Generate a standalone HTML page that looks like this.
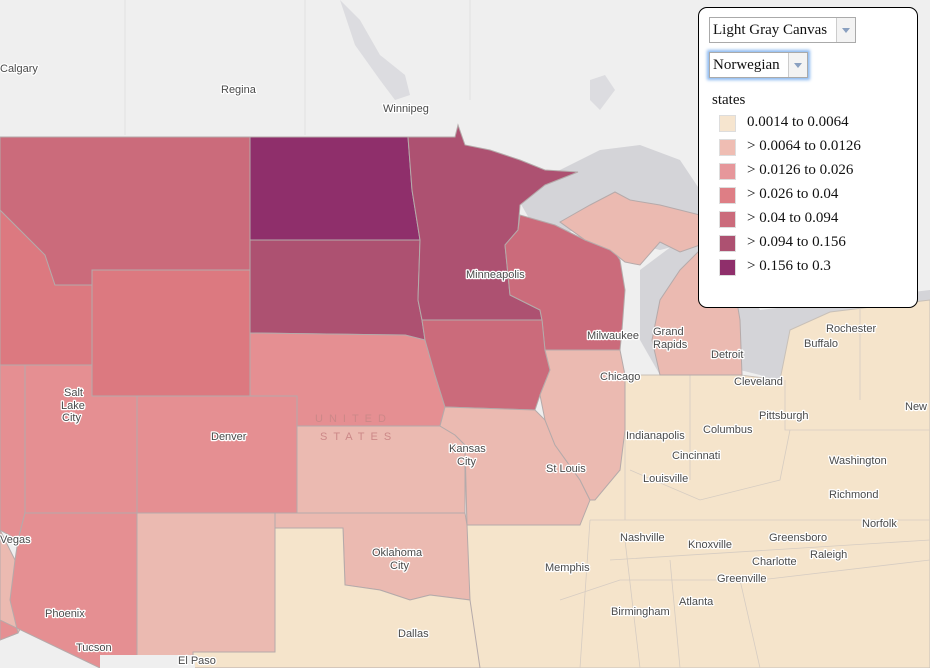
<!DOCTYPE html><html><head><style>
body{margin:0;width:930px;height:668px;overflow:hidden;background:#efefef;font-family:"Liberation Sans",sans-serif}
svg{position:absolute;left:0;top:0}
svg text{font-family:"Liberation Sans",sans-serif;font-size:11px;fill:#4a4a4a;stroke:#fff;stroke-width:2.5px;paint-order:stroke;stroke-linejoin:round}
#leg{position:absolute;left:698px;top:7px;width:218px;height:299px;background:#fff;border:1px solid #000;border-radius:9px;font-family:"Liberation Serif",serif;font-size:15px;color:#111}
.sel{position:absolute;border:1px solid #aaa;height:24px;line-height:24px;padding-left:3px;background:#fff;font-size:15px}
.sel i{position:absolute;right:0;top:0;width:18px;height:24px;border-left:1px solid #ccc;background:#f3f3f3}
.sel i:after{content:"";position:absolute;left:5px;top:10px;border:4px solid transparent;border-top:5px solid #8aa0c0}
.row{position:absolute;left:20px;height:18px}
.row b{position:absolute;left:0;top:1px;width:15px;height:15px;border:1px solid #ddd}
.row span{position:absolute;left:28px;top:0;white-space:nowrap}
</style></head><body>
<svg width="930" height="668" viewBox="0 0 930 668">
<rect width="930" height="668" fill="#efefef"/>
<path d="M340 0 L360 20 L380 55 L405 75 L410 95 L395 100 L380 80 L355 45 Z" fill="#dcdce0"/>
<path d="M590 80 L605 75 L615 90 L600 110 L590 100 Z" fill="#dcdce0"/>
<g stroke="#e0e0e0" stroke-width="1" fill="none"><path d="M125 0 V135 M305 0 V135 M470 0 V100"/></g>
<path d="M510 185 L560 170 L600 150 L640 145 L680 160 L700 190 L700 240 L660 250 L620 240 L590 225 L560 235 L530 220 Z" fill="#d4d4d8"/>
<path d="M640 270 L680 240 L720 245 L745 280 L760 310 L930 290 L930 400 L800 390 L760 375 L700 360 L660 375 L640 340 Z" fill="#d4d4d8"/>
<path d="M465 440 L560 430 L620 470 L625 375 L740 375 L780 380 L790 330 L830 312 L930 300 L930 668 L470 668 Z" fill="#f5e4cb" stroke="#c8c0b8" stroke-width="1"/>
<g stroke="#d6ccc2" stroke-width="0.8" fill="none">
<path d="M625 375 V520 M690 375 L690 480 M630 470 L700 500 L780 480 L790 430 M590 520 H930 M610 560 L930 540 M560 600 L620 580 L760 580 L930 560 M590 520 L580 668 M625 540 L640 668 M670 560 L680 668 M740 580 L760 668 M785 380 V430 H930 M860 300 V400"/>
</g>
<g stroke="#b5aaaa" stroke-width="1">
<path d="M0 530 L15 560 L25 620 L18 633 L0 640 Z" fill="#ebbab1"/>
<path d="M0 365 L25 365 L25 513 L18 540 L0 530 Z" fill="#e58f92"/>
<path d="M25 513 L137 513 L137 668 L100 668 L0 620 L0 640 L18 633 L10 600 L15 560 L18 540 Z" fill="#e58f92"/>
<path d="M25 365 L92 365 L92 396 L137 396 L137 513 L25 513 Z" fill="#e58f92"/>
<path d="M0 210 L20 230 L45 255 L55 285 L92 285 L92 365 L0 365 Z" fill="#dc7980"/>
<path d="M0 137 L250 137 L250 270 L92 270 L92 285 L55 285 L45 255 L20 230 L0 210 Z" fill="#cb6b7b"/>
<path d="M92 270 L250 270 L250 396 L92 396 Z" fill="#dc7980"/>
<path d="M137 396 L297 396 L297 513 L137 513 Z" fill="#e58f92"/>
<path d="M250 137 L408 137 L412 190 L420 240 L250 240 Z" fill="#8f2f6b"/>
<path d="M250 240 L420 240 L418 300 L422 320 L425 340 L405 335 L250 333 Z" fill="#ad5171"/>
<path d="M250 333 L405 335 L425 340 L435 375 L445 407 L440 426 L297 426 L297 396 L250 396 Z" fill="#e58f92"/>
<path d="M408 137 L455 137 L458 125 L465 145 L490 150 L520 160 L545 170 L578 172 L545 185 L520 205 L518 230 L505 245 L510 295 L540 310 L542 320 L422 320 L418 300 L420 240 L412 190 Z" fill="#ad5171"/>
<path d="M505 245 L518 230 L520 215 L555 225 L585 240 L610 245 L620 260 L625 290 L622 330 L620 350 L545 350 L542 320 L540 310 L510 295 Z" fill="#cb6b7b"/>
<path d="M422 320 L542 320 L545 350 L550 370 L540 395 L535 410 L445 407 L435 375 L425 340 Z" fill="#cb6b7b"/>
<path d="M297 426 L440 426 L455 435 L465 445 L465 513 L297 513 Z" fill="#ebbab1"/>
<path d="M445 407 L535 410 L545 420 L555 445 L580 480 L590 500 L580 525 L467 525 L465 445 L455 435 L440 426 Z" fill="#ebbab1"/>
<path d="M545 350 L620 350 L625 375 L625 430 L620 470 L595 500 L590 500 L580 480 L555 445 L545 420 L540 395 L550 370 Z" fill="#ebbab1"/>
<path d="M560 222 L590 205 L615 192 L630 200 L660 205 L700 215 L700 245 L680 252 L660 242 L640 265 L625 262 L610 250 L585 240 Z" fill="#ebbab1"/>
<path d="M660 375 L652 340 L660 300 L680 270 L700 250 L720 260 L735 290 L740 320 L742 375 Z" fill="#ebbab1"/>
<path d="M137 513 L275 513 L275 652 L193 652 L193 668 L157 668 L157 660 L137 660 Z" fill="#ebbab1"/>
<path d="M275 513 L465 513 L467 525 L470 600 L430 595 L410 600 L380 590 L345 585 L343 528 L275 528 Z" fill="#ebbab1"/>
<path d="M275 528 L343 528 L345 585 L380 590 L410 600 L430 595 L470 600 L480 668 L193 668 L193 652 L275 652 Z" fill="#f5e4cb"/>
</g>
<rect x="100" y="655" width="95" height="13" fill="#efefef"/>
<text x="0" y="72" font-size="12">Calgary</text>
<text x="221" y="93">Regina</text>
<text x="383" y="112">Winnipeg</text>
<text x="466" y="278">Minneapolis</text>
<text x="587" y="339">Milwaukee</text>
<text x="653" y="335">Grand</text><text x="653" y="348">Rapids</text>
<text x="711" y="358">Detroit</text>
<text x="600" y="380" font-size="13">Chicago</text>
<text x="734" y="385">Cleveland</text>
<text x="804" y="347">Buffalo</text>
<text x="826" y="332">Rochester</text>
<text x="759" y="419">Pittsburgh</text>
<text x="905" y="410" font-size="13">New</text>
<text x="829" y="464" font-size="13">Washington</text>
<text x="703" y="433">Columbus</text>
<text x="626" y="439">Indianapolis</text>
<text x="672" y="459">Cincinnati</text>
<text x="643" y="482">Louisville</text>
<text x="829" y="498">Richmond</text>
<text x="862" y="527">Norfolk</text>
<text x="769" y="541">Greensboro</text>
<text x="810" y="558">Raleigh</text>
<text x="752" y="565">Charlotte</text>
<text x="688" y="548">Knoxville</text>
<text x="620" y="541">Nashville</text>
<text x="717" y="582">Greenville</text>
<text x="545" y="571">Memphis</text>
<text x="679" y="605">Atlanta</text>
<text x="611" y="615">Birmingham</text>
<text x="546" y="472">St Louis</text>
<text x="449" y="452">Kansas</text><text x="457" y="465">City</text>
<text x="372" y="556">Oklahoma</text><text x="390" y="569">City</text>
<text x="398" y="637" font-size="13">Dallas</text>
<text x="178" y="664">El Paso</text>
<text x="76" y="651">Tucson</text>
<text x="45" y="617" font-size="13">Phoenix</text>
<text x="0" y="543">Vegas</text>
<text x="64" y="396">Salt</text><text x="61" y="409">Lake</text><text x="62" y="421">City</text>
<text x="211" y="440">Denver</text>
<text x="315" y="422" style="fill:#c88;stroke:none;letter-spacing:6px">UNITED</text>
<text x="320" y="440" style="fill:#c88;stroke:none;letter-spacing:6px">STATES</text>
</svg>
<div id="leg">
<div class="sel" style="left:10px;top:9px;width:142px">Light Gray Canvas<i></i></div>
<div class="sel" style="left:10px;top:44px;width:94px;box-shadow:0 0 3px 2px #8ab8f0">Norwegian<i></i></div>
<div style="position:absolute;left:13px;top:84px">states</div>
<div class="row" style="top:106px"><b style="background:#f6e5cf"></b><span>0.0014 to 0.0064</span></div>
<div class="row" style="top:130px"><b style="background:#efbdb3"></b><span>&gt; 0.0064 to 0.0126</span></div>
<div class="row" style="top:154px"><b style="background:#e6979b"></b><span>&gt; 0.0126 to 0.026</span></div>
<div class="row" style="top:178px"><b style="background:#de7e85"></b><span>&gt; 0.026 to 0.04</span></div>
<div class="row" style="top:202px"><b style="background:#cb6b7b"></b><span>&gt; 0.04 to 0.094</span></div>
<div class="row" style="top:226px"><b style="background:#ad5171"></b><span>&gt; 0.094 to 0.156</span></div>
<div class="row" style="top:250px"><b style="background:#8f2f6b"></b><span>&gt; 0.156 to 0.3</span></div>
</div>
</body></html>
